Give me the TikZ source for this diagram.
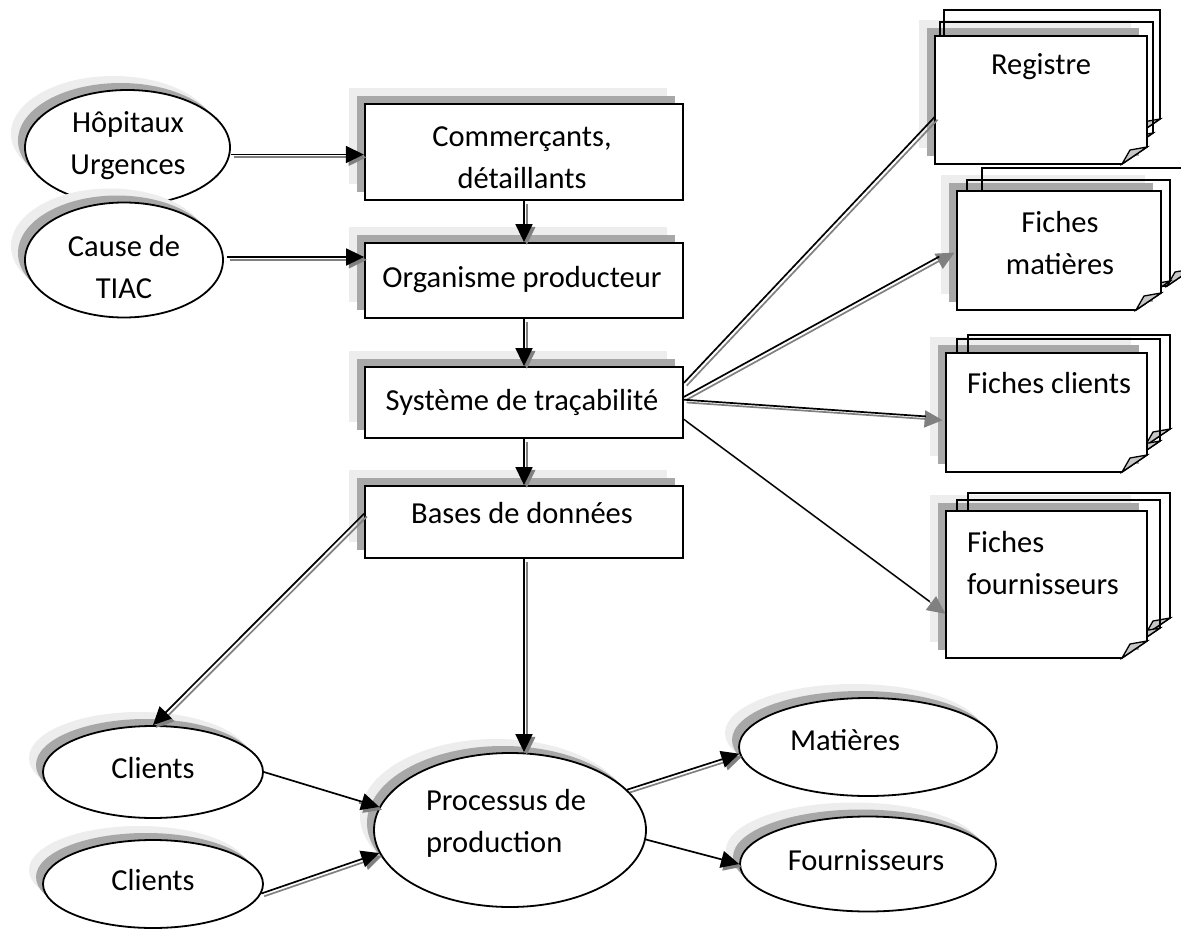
\documentclass[tikz,border=0pt]{standalone}
\usepackage{fontspec}
\setmainfont{Carlito}
\usetikzlibrary{arrows.meta,shapes.geometric,calc}
\definecolor{shdark}{gray}{0.66}
\definecolor{shlight}{gray}{0.93}
\definecolor{argray}{gray}{0.5}
\definecolor{foldgray}{gray}{0.78}

\newcommand\docpage[5][]{%
  \draw[line width=1.6pt,#1] (#2,#3) -- (#4,#3) -- (#4,{#5-17}) -- ({#4-25},#5) -- (#2,#5) -- cycle;
  \filldraw[line width=1.3pt, fill=foldgray] ({#4-25},#5) -- ({#4-17},{#5-14}) -- (#4,{#5-17}) -- cycle;
}
\newcommand\shadowrect[4]{%
  \fill[shlight] ({#1-16},{#2-16}) rectangle ({#3-16},{#4-16});
  \fill[shdark] ({#1-8},{#2-8}) rectangle ({#3-8},{#4-8});
}
\newcommand\ellshadow[4]{%
  \fill[shlight] ({#1-14},{#2-14}) ellipse [x radius=#3pt, y radius=#4pt];
  \fill[shdark] ({#1-7},{#2-7}) ellipse [x radius=#3pt, y radius=#4pt];
}

\begin{document}
\begin{tikzpicture}[x=1pt,y=-1pt,
  every node/.style={inner sep=0pt},
  txt/.style={font=\fontsize{30.5}{42}\selectfont, align=center},
  box/.style={rectangle, draw, line width=1.8pt, fill=white},
  ell/.style={ellipse, draw, line width=1.8pt, fill=white},
  doc/.style={rectangle, draw=none},
  arr/.style={draw=black, line width=1.7pt, -{Triangle[length=18pt,width=17pt]}},
  arrsh/.style={draw=argray, line width=1.7pt, -{Triangle[length=18pt,width=17pt]}, transform canvas={shift={(2.8pt,-2.8pt)}}},
  lin/.style={draw=black, line width=1.7pt},
  linsh/.style={draw=argray, line width=1.7pt, transform canvas={shift={(2.8pt,-2.8pt)}}},
]
\useasboundingbox (0,0) rectangle (1181,931);

% ---------- left ellipses
\ellshadow{127.5}{147.5}{102.5}{57.5}
\node[ell, minimum width=205pt, minimum height=115pt] (hop) at (127.5,147.5) {};
\node[txt] (hopt) at (128,146) {Hôpitaux\\Urgences};
\ellshadow{124}{260}{99}{57.5}
\node[ell, minimum width=198pt, minimum height=115pt] (tiac) at (124,260) {};
\node[txt] (tiact) at (124,267) {Cause de\\TIAC};

% ---------- central boxes
\shadowrect{365}{104}{683}{200}
\node[box, line width=2.4pt, minimum width=318pt, minimum height=96pt] (com) at (524,152) {};
\node[txt] (comt) at (522,158) {Commerçants,\\détaillants};
\shadowrect{365}{243}{683}{318}
\node[box, minimum width=318pt, minimum height=75pt] (org) at (524,280.5) {};
\node[txt] (orgt) at (522,280) {Organisme producteur};
\shadowrect{365}{367}{683}{438}
\node[box, minimum width=318pt, minimum height=71pt] (sys) at (524,402.5) {};
\node[txt] (syst) at (522,402) {Système de traçabilité};
\shadowrect{365}{486}{683}{558}
\node[box, minimum width=318pt, minimum height=72pt] (bases) at (524,522) {};
\node[txt] (basest) at (522,513) {Bases de données};

% ---------- bottom ellipses
\ellshadow{153}{772}{110}{46}
\node[ell, minimum width=220pt, minimum height=92pt] (cl1) at (153,772) {};
\node[txt] (cl1t) at (153,768) {Clients};
\ellshadow{153}{884}{110}{44}
\node[ell, minimum width=220pt, minimum height=88pt] (cl2) at (153,884) {};
\node[txt] (cl2t) at (153,880) {Clients};
\ellshadow{510}{830}{136}{77}
\node[ell, minimum width=272pt, minimum height=154pt] (proc) at (510,830) {};
\node[txt, align=left] (proct) at (506,823) {Processus de\\production};
\ellshadow{868}{747}{129}{49}
\node[ell, minimum width=258pt, minimum height=98pt] (mat) at (868,747) {};
\node[txt] (matt) at (845,740) {Matières};
\ellshadow{868}{864}{128}{47.5}
\node[ell, minimum width=256pt, minimum height=95pt] (four) at (868,864) {};
\node[txt] (fourt) at (866,860) {Fournisseurs};

% ---------- document stacks
\shadowrect{935}{36}{1147}{164}
\docpage{944}{10}{1160}{136}
\docpage{940}{22}{1153}{150}
\docpage[fill=white]{935}{36}{1147}{164}
\node[doc, minimum width=212pt, minimum height=128pt] (reg) at (1041,100) {};
\node[txt] (regt) at (1041,67) {Registre};

\shadowrect{957}{191}{1161}{310}
\docpage{982}{168}{1192}{286}
\docpage{967}{180}{1170}{298}
\docpage[fill=white]{957}{191}{1161}{310}
\node[doc, minimum width=204pt, minimum height=119pt] (fm) at (1059,250.5) {};
\node[txt] (fmt) at (1060,243) {Fiches\\matières};

\shadowrect{946}{353}{1147}{472}
\docpage{968}{335}{1170}{446}
\docpage{957}{339}{1160}{458}
\docpage[fill=white]{946}{353}{1147}{472}
\node[doc, minimum width=201pt, minimum height=119pt] (fc) at (1046.5,412.5) {};
\node[txt, anchor=west] (fct) at (967,383) {Fiches clients};

\shadowrect{946}{511}{1147}{658}
\docpage{968}{493}{1170}{635}
\docpage{957}{500}{1160}{645}
\docpage[fill=white]{946}{511}{1147}{658}
\node[doc, minimum width=201pt, minimum height=147pt] (ff) at (1046.5,584.5) {};
\node[txt, align=left, anchor=west] (fft) at (967,563) {Fiches\\fournisseurs};

% ---------- connectors
\coordinate (h1) at ([yshift=-7pt]hop.east);
\draw[arrsh] (h1) -- (h1 -| com.west);
\draw[arr] (h1) -- (h1 -| com.west);
\coordinate (t1) at ([xshift=3pt,yshift=3pt]tiac.east);
\draw[arrsh] (t1) -- (t1 -| org.west);
\draw[arr] (t1) -- (t1 -| org.west);

\draw[arrsh] (com.south) -- (org.north);
\draw[arr] (com.south) -- (org.north);
\draw[arrsh] (org.south) -- (sys.north);
\draw[arr] (org.south) -- (sys.north);
\draw[arrsh] (sys.south) -- (bases.north);
\draw[arr] (sys.south) -- (bases.north);

\coordinate (bp) at (bases.south |- proc.north);
\draw[arrsh] (bases.south) -- (bp);
\draw[arr] (bases.south) -- (bp);
\draw[arrsh] (bases.177) -- (cl1.north);
\draw[arr] (bases.177) -- (cl1.north);

\draw[arrsh] ($(cl1.east)!0.8!(proc.170)$) -- (proc.170);
\draw[arr] (cl1.east) -- (proc.170);
\draw[arrsh] (cl2.-5) -- (proc.190);
\draw[arr] (cl2.-5) -- (proc.190);
\draw[arrsh] (proc.19) -- (mat.183);
\draw[arr] (proc.19) -- (mat.183);
\draw[arrsh] ($(proc.-4)!0.8!(four.west)$) -- (four.west);
\draw[arr] (proc.-4) -- (four.west);

\draw[linsh] (sys.7) -- (reg.189);
\draw[lin] (sys.7) -- (reg.189);
\draw[arrsh, shorten >=6pt] (sys.2) -- (fm.178);
\draw[lin, shorten >=20pt] (sys.2) -- (fm.178);
\draw[arrsh, shorten >=6pt] (sys.1) -- (fc.183);
\draw[lin, shorten >=20pt] (sys.1) -- (fc.183);
\draw[arrsh, line width=0.9pt, shorten >=4pt] (sys.-6) -- (ff.196);
\draw[lin, line width=1.3pt, shorten >=20pt] (sys.-6) -- (ff.196);
\end{tikzpicture}
\end{document}
